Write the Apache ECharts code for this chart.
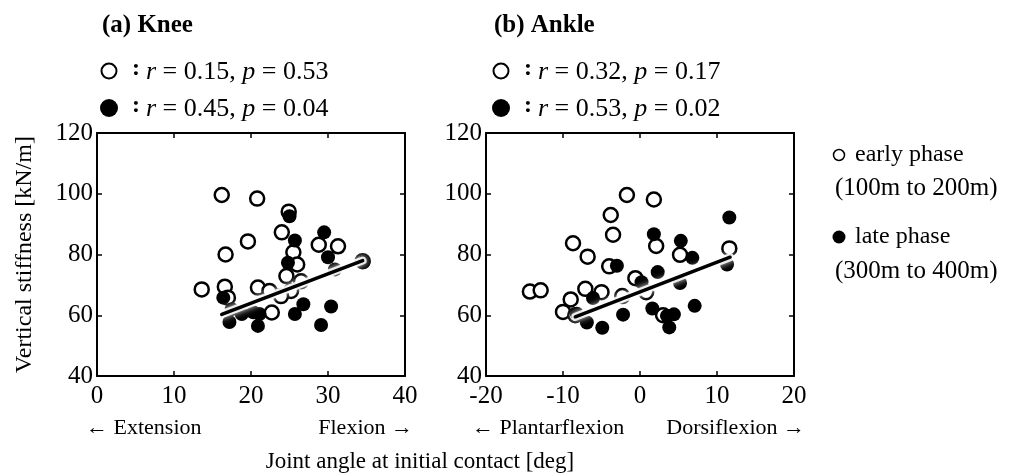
<!DOCTYPE html>
<html>
<head>
<meta charset="utf-8">
<script src="https://cdn.jsdelivr.net/npm/echarts@6/dist/echarts.min.js"></script>
<style>
  html, body { margin: 0; padding: 0; background: #fff; }
  #chart { width: 1018px; height: 476px; }
</style>
</head>
<body>
<div id="chart"></div>
<script>
  // [joint angle (deg), vertical stiffness (kN/m)]
  var kneeEarly = [
    [16.2, 99.6], [20.8, 98.4], [24.9, 94.1], [24.0, 87.3], [19.6, 84.3],
    [28.8, 83.2], [31.3, 82.7], [16.7, 80.0], [25.5, 80.7], [26.0, 76.7],
    [24.6, 72.9], [13.6, 68.5], [16.6, 69.4], [17.0, 65.8], [20.9, 69.1],
    [22.4, 68.0], [25.2, 68.0], [23.9, 66.3], [22.7, 60.9], [26.5, 71.2],
    [34.5, 77.8]
  ];
  var kneeLate = [
    [25.0, 92.6], [29.5, 87.3], [25.7, 84.6], [30.0, 79.1], [24.8, 77.3],
    [16.4, 65.8], [26.8, 63.6], [30.4, 62.9], [25.7, 60.4], [17.2, 57.8],
    [20.9, 56.5], [29.1, 56.8], [18.8, 60.4], [20.3, 61.0], [21.1, 60.4],
    [17.5, 62.0], [30.9, 75.1], [34.6, 77.5]
  ];
  var kneeFit = [[16.2, 60.3], [34.5, 78.0]];

  var ankleEarly = [
    [-1.7, 99.6], [1.8, 98.1], [-3.8, 93.0], [-3.5, 86.5], [-8.7, 83.7],
    [-6.8, 79.3], [2.1, 82.8], [5.2, 79.9], [11.6, 82.0], [-4.0, 76.1],
    [-0.6, 72.2], [-14.3, 67.8], [-12.9, 68.2], [-7.1, 68.7], [-5.0, 67.6],
    [-9.0, 65.2], [-10.0, 61.1], [-2.3, 66.3], [0.8, 67.6], [3.0, 60.0],
    [-8.4, 60.0]
  ];
  var ankleLate = [
    [11.6, 92.2], [1.8, 86.7], [5.3, 84.5], [6.8, 78.9], [-3.0, 76.3],
    [2.3, 74.2], [0.2, 70.9], [-6.1, 65.7], [5.2, 70.6], [11.3, 76.7],
    [1.6, 62.2], [-2.2, 60.2], [7.1, 63.1], [4.4, 60.3], [3.5, 59.8],
    [3.8, 56.0], [-4.9, 55.9], [-6.9, 57.6], [-8.2, 60.5]
  ];
  var ankleFit = [[-8.4, 59.5], [11.7, 79.1]];

  var kneeTicks = [0, 10, 20, 30, 40];
  var ankleTicks = [-20, -10, 0, 10, 20];
  var yTicks = [40, 60, 80, 100, 120];

  var kneeStats = [['0.15', '0.53'], ['0.45', '0.04']];
  var ankleStats = [['0.32', '0.17'], ['0.53', '0.02']];

  var FONT = '"Liberation Serif", "Times New Roman", serif';

  var chart = echarts.init(document.getElementById('chart'));

  function xAxes(grid, ticks) {
    var base = {
      type: 'value', gridIndex: grid,
      min: ticks[0], max: ticks[ticks.length - 1], interval: ticks[1] - ticks[0],
      splitLine: { show: false },
      axisLine: { show: true, onZero: false, lineStyle: { color: '#000', width: 2 } },
      axisTick: { show: true, inside: true, length: 5, lineStyle: { color: '#000', width: 1.5 } }
    };
    var bottom = echarts.util.merge({
      position: 'bottom',
      axisLabel: { color: '#000', fontSize: 25, fontFamily: FONT, margin: 8 }
    }, base, true);
    var top = echarts.util.merge({
      position: 'top', axisLabel: { show: false }
    }, base, true);
    return [bottom, top];
  }

  function yAxes(grid, withName) {
    var base = {
      type: 'value', gridIndex: grid,
      min: yTicks[0], max: yTicks[yTicks.length - 1], interval: yTicks[1] - yTicks[0],
      splitLine: { show: false },
      axisLine: { show: true, onZero: false, lineStyle: { color: '#000', width: 2 } },
      axisTick: { show: true, inside: true, length: 5, lineStyle: { color: '#000', width: 1.5 } }
    };
    var left = echarts.util.merge({
      position: 'left',
      axisLabel: { color: '#000', fontSize: 25, fontFamily: FONT, margin: 4 }
    }, base, true);
    if (withName) {
      left.name = 'Vertical stiffness [kN/m]';
      left.nameLocation = 'middle';
      left.nameGap = 60;
      left.nameTextStyle = { color: '#000', fontSize: 24, fontFamily: FONT };
    }
    var right = echarts.util.merge({
      position: 'right', axisLabel: { show: false }
    }, base, true);
    return [left, right];
  }

  function panelSeries(axisIdx, early, late, fit) {
    return [
      {
        type: 'scatter', xAxisIndex: axisIdx, yAxisIndex: axisIdx,
        data: early, symbolSize: 14, emphasis: { disabled: true },
        itemStyle: { color: '#fff', borderColor: '#000', borderWidth: 2.5, opacity: 1 }
      },
      {
        type: 'scatter', xAxisIndex: axisIdx, yAxisIndex: axisIdx,
        data: late, symbolSize: 14, emphasis: { disabled: true },
        itemStyle: { color: '#000', opacity: 1 }
      },
      {
        type: 'line', xAxisIndex: axisIdx, yAxisIndex: axisIdx, z: 5,
        data: fit, symbol: 'none', silent: true,
        lineStyle: { color: '#fff', width: 8, opacity: 0.85, shadowColor: '#fff', shadowBlur: 6, cap: 'round' }
      },
      {
        type: 'line', xAxisIndex: axisIdx, yAxisIndex: axisIdx, z: 6,
        data: fit, symbol: 'none', silent: true,
        lineStyle: { color: '#000', width: 3.5, cap: 'round' }
      }
    ];
  }

  function txt(x, y, s, size, extra) {
    var st = { text: s, x: x, y: y, fill: '#000', font: size + 'px ' + FONT, textVerticalAlign: 'middle' };
    if (extra) echarts.util.extend(st, extra);
    return { type: 'text', style: st };
  }

  function statBlock(cx, stats, titleText) {
    var rich = { i: { fontStyle: 'italic', fontSize: 26, fontFamily: FONT } };
    return [
      txt(cx - 6, 26, titleText, 25, { font: 'bold 25px ' + FONT }),
      { type: 'circle', shape: { cx: cx + 1, cy: 71, r: 7.5 }, style: { fill: '#fff', stroke: '#000', lineWidth: 2 } },
      { type: 'circle', shape: { cx: cx + 1, cy: 108, r: 9 }, style: { fill: '#000' } },
      txt(cx + 24, 69, ':', 24, { font: 'bold 24px ' + FONT }),
      txt(cx + 24, 106, ':', 24, { font: 'bold 24px ' + FONT }),
      txt(cx + 38, 72, '{i|r} = ' + stats[0][0] + ', {i|p} = ' + stats[0][1], 26, { rich: rich }),
      txt(cx + 38, 109, '{i|r} = ' + stats[1][0] + ', {i|p} = ' + stats[1][1], 26, { rich: rich })
    ];
  }

  var graphics = []
    .concat(statBlock(108, kneeStats, '(a) Knee'))
    .concat(statBlock(500, ankleStats, '(b) Ankle'))
    .concat([
      txt(86, 428, '\u2190 Extension', 22),
      txt(413, 428, 'Flexion \u2192', 22, { textAlign: 'right' }),
      txt(472, 428, '\u2190 Plantarflexion', 22),
      txt(805, 428, 'Dorsiflexion \u2192', 22, { textAlign: 'right' }),
      txt(420, 462, 'Joint angle at initial contact [deg]', 23, { textAlign: 'center' }),
      { type: 'circle', shape: { cx: 839, cy: 155, r: 5.5 }, style: { fill: '#fff', stroke: '#000', lineWidth: 1.5 } },
      txt(855, 155, 'early phase', 24),
      txt(835, 188, '(100m to 200m)', 25),
      { type: 'circle', shape: { cx: 839, cy: 237, r: 6.5 }, style: { fill: '#000' } },
      txt(855, 237, 'late phase', 24),
      txt(835, 271, '(300m to 400m)', 25)
    ]);

  chart.setOption({
    backgroundColor: '#fff',
    animation: false,
    grid: [
      { left: 97, top: 133, width: 308, height: 243 },
      { left: 486, top: 133, width: 308, height: 243 }
    ],
    xAxis: xAxes(0, kneeTicks).concat(xAxes(1, ankleTicks)),
    yAxis: yAxes(0, true).concat(yAxes(1, false)),
    series: panelSeries(0, kneeEarly, kneeLate, kneeFit)
      .concat(panelSeries(2, ankleEarly, ankleLate, ankleFit)),
    graphic: graphics
  });
</script>
</body>
</html>
